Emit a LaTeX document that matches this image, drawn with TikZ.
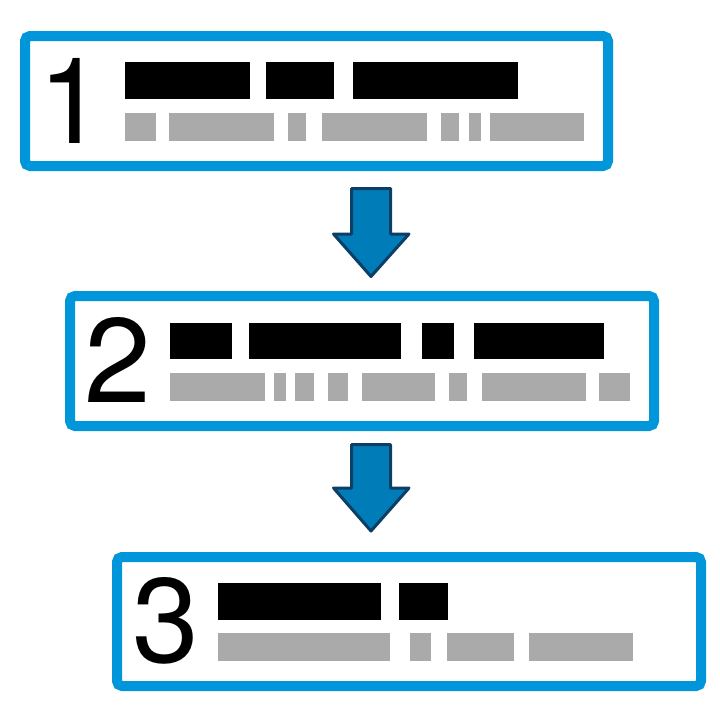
\documentclass[tikz,border=0pt]{standalone}
\usepackage{fontspec}
\setmainfont{TeX Gyre Heros}
\definecolor{boxblue}{RGB}{0,150,217}
\definecolor{arrowfill}{RGB}{0,125,184}
\definecolor{arrowline}{RGB}{12,62,102}
\definecolor{redgray}{RGB}{170,170,170}
\tikzset{
  stepbox/.style={draw=boxblue, line width=10pt, rounded corners=5pt, fill=white, inner sep=0pt},
  bignum/.style={font=\fontsize{120}{120}\selectfont, inner sep=0pt, anchor=base},
  blk/.style={fill=black},
  gry/.style={fill=redgray},
  blockarrow/.style={fill=arrowfill, draw=arrowline, line width=3pt, line join=round}
}
\begin{document}
\begin{tikzpicture}[x=1pt,y=-1pt]
\useasboundingbox (0,0) rectangle (720,720);
% boxes
\node[stepbox, minimum width=583pt, minimum height=130pt] (b1) at (316.5,101) {};
\node[stepbox, minimum width=584pt, minimum height=130pt] (b2) at (362,361) {};
\node[stepbox, minimum width=584pt, minimum height=129pt] (b3) at (409,621.5) {};
% numbers
\node[bignum] (n1) at (71.5,143) {1};
\node[bignum] (n2) at (118,402) {2};
\node[bignum] (n3) at (166,662) {3};
% box 1 bars
\foreach \a/\b in {125/250,266/334,353/518} \fill[blk] (\a,62) rectangle (\b,99);
\foreach \a/\b in {125/156,169/274,288/306,322/427,441/459,469/481,490/584} \fill[gry] (\a,113) rectangle (\b,141);
% box 2 bars
\foreach \a/\b in {170/232,249/401,422/454,474/604} \fill[blk] (\a,323) rectangle (\b,359);
\foreach \a/\b in {170/265,274/286,295/314,328/348,362/435,449/467,482/586,599/630} \fill[gry] (\a,373) rectangle (\b,401);
% box 3 bars
\foreach \a/\b in {218/381,399/448} \fill[blk] (\a,583) rectangle (\b,620);
\foreach \a/\b in {218/390,410/431,447/514,529/633} \fill[gry] (\a,633) rectangle (\b,661);
% arrows
\coordinate (a1) at (371,188.5);
\draw[blockarrow] (351.5,188.5) -- (390.5,188.5) -- (390.5,234) -- (409,234) -- (371,276.5) -- (333.5,234) -- (351.5,234) -- cycle;
\coordinate (a2) at (371,444.5);
\draw[blockarrow] (351.5,444.5) -- (390.5,444.5) -- (390.5,488) -- (409,488) -- (371,531) -- (333.5,488) -- (351.5,488) -- cycle;
\end{tikzpicture}
\end{document}
